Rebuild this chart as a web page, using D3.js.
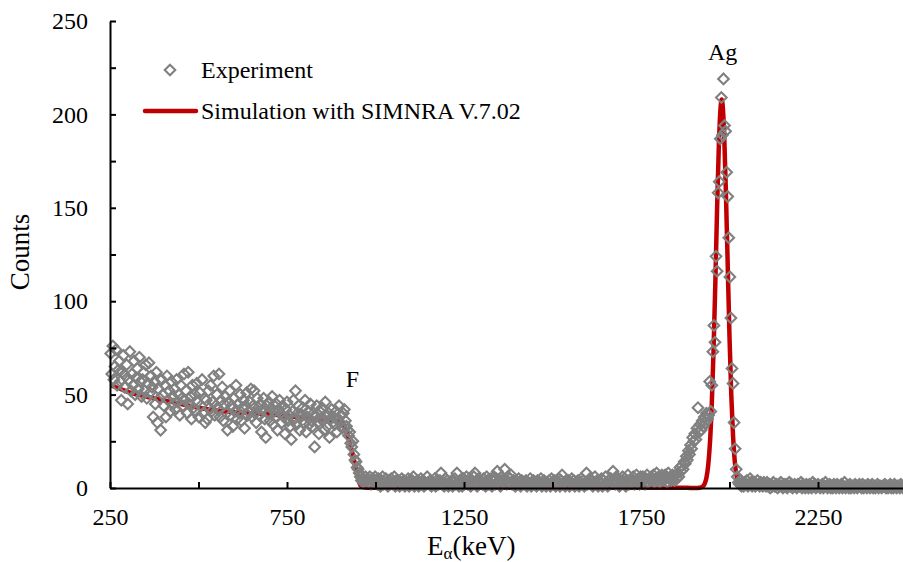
<!DOCTYPE html>
<html>
<head>
<meta charset="utf-8">
<script src="https://cdn.jsdelivr.net/npm/d3@7/dist/d3.min.js"></script>
<style>
  body { margin: 0; background: #fff; }
  svg { font-family: "Liberation Serif", "Times New Roman", serif; }
</style>
</head>
<body>
<svg id="chart" width="903" height="562"></svg>
<script>
var width = 903, height = 562

// Experiment: counts per channel, channels 3 keV apart, each segment with its start energy
var expStep = 3
var expLowStart = 252
var expLow = [
  72, 61, 76, 58, 65, 74, 55, 63, 68, 57,
  47, 62, 71, 54, 60, 66, 45, 58, 73, 52,
  61, 55, 68, 50, 59, 64, 53, 70, 57, 49,
  58, 62, 52, 66, 48, 56, 67, 51, 60, 54,
  38, 57, 45, 62, 35, 53, 48, 31, 58, 50,
  44, 55, 38, 60, 47, 52, 41, 57, 49, 45,
  53, 42, 58, 46, 50, 39, 55, 48, 44, 61,
  47, 52, 40, 62, 45, 49, 37, 55, 43, 50,
  41, 56, 46, 38, 51, 44, 58, 40, 48, 35,
  47, 37, 52, 43, 55, 41, 46, 60, 39, 44,
  50, 42, 61, 38, 47, 54, 36, 45, 49, 40,
  31, 46, 52, 39, 44, 33, 48, 41, 55, 37,
  45, 40, 50, 36, 43, 47, 32, 44, 51, 39,
  41, 46, 53, 38, 44, 52, 40, 35, 48, 43,
  39, 45, 30, 42, 48, 37, 27, 44, 40, 46,
  36, 43, 49, 34, 41, 38, 45, 31, 42, 47,
  40, 35, 44, 38, 29, 42, 46, 36, 39, 33,
  26, 41, 47, 37, 52, 34, 40, 44, 31, 38,
  39, 43, 35, 47, 30, 38, 41, 34, 45, 36,
  33, 40, 22, 38, 44, 35, 29, 41, 37, 43,
  36, 31, 46, 38, 33, 40, 27, 37, 42, 35,
  38, 34, 41, 30, 37, 44, 35, 39, 32, 40,
  42, 36, 33
]
var expEdgeStart = 921
var expEdge = [31, 28, 30, 24, 22, 25, 18, 15, 14, 11, 10, 8, 6, 4, 5, 3, 4]
var expFlatStart = 972
var expFlat = [
  6, 4, 5, 3, 6, 2, 4, 5, 3, 6,
  4, 2, 5, 3, 1, 4, 6, 2, 3, 5,
  3, 1, 4, 2, 5, 3, 2, 6, 1, 4,
  2, 4, 1, 3, 5, 2, 4, 1, 3, 2,
  5, 1, 3, 2, 4, 6, 1, 3, 2, 4,
  1, 3, 5, 2, 4, 1, 3, 2, 6, 3,
  2, 4, 1, 3, 2, 5, 1, 4, 3, 2,
  4, 8, 2, 3, 1, 5, 2, 4, 1, 3,
  2, 4, 1, 3, 5, 2, 8, 3, 1, 4,
  3, 1, 5, 2, 4, 6, 2, 3, 5, 1,
  4, 2, 6, 8, 3, 1, 5, 2, 4, 3,
  2, 5, 3, 1, 6, 4, 2, 3, 5, 1,
  4, 6, 2, 5, 9, 3, 4, 1, 6, 3,
  5, 10, 4, 2, 6, 3, 5, 7, 2, 4,
  3, 1, 4, 2, 5, 3, 1, 4, 2, 3,
  2, 4, 1, 3, 2, 5, 1, 3, 4, 2,
  3, 1, 4, 2, 3, 5, 1, 2, 4, 3,
  1, 3, 2, 4, 1, 5, 3, 2, 4, 1,
  3, 2, 5, 1, 4, 7, 2, 3, 1, 4,
  2, 4, 1, 3, 5, 2, 4, 1, 3, 2,
  4, 1, 3, 5, 2, 4, 1, 3, 8, 2,
  3, 5, 2, 4, 1, 3, 6, 2, 4, 1,
  3, 2, 5, 1, 4, 2, 6, 3, 1, 4,
  2, 5, 3, 9, 4, 2, 6, 3, 5, 1,
  4, 2, 6, 3, 5, 1, 4, 7, 2, 3,
  5, 3, 6, 2, 4, 7, 3, 5, 2, 6,
  3, 6, 4, 2, 5, 7, 3, 5, 4, 6,
  4, 7, 3, 5, 8, 4, 6, 3, 5, 7,
  5, 4, 7, 6, 3, 8, 5, 6, 4, 7
]
var expAgStart = 1842
var expAg = [
  6, 4, 7, 5, 8, 6, 11, 9, 12, 10,
  14, 13, 17, 15, 20, 18, 23, 21, 27, 25,
  29, 26, 32, 43, 30, 34, 31, 36, 33, 38,
  35, 40, 37, 39, 57, 41, 55, 73, 87, 78,
  124, 116, 158, 164, 187, 209, 189, 219, 194, 191,
  169, 156, 134, 113, 91, 64, 56, 35, 21, 10,
  6, 3, 2, 4, 1, 2
]
var expTailStart = 2040
var expTail = [
  1, 3, 2, 4, 1, 2, 5, 3, 1, 2,
  3, 1, 2, 4, 2, 1, 3, 2, 1, 3,
  2, 1, 3, 1, 2, 0, 2, 1, 3, 1,
  1, 2, 0, 2, 1, 3, 1, 0, 2, 1,
  2, 0, 1, 3, 1, 2, 0, 1, 2, 1,
  0, 2, 1, 1, 3, 0, 2, 1, 0, 2,
  1, 0, 2, 1, 0, 3, 1, 2, 0, 1,
  2, 1, 0, 1, 2, 0, 1, 3, 1, 0,
  1, 2, 0, 1, 0, 2, 1, 0, 2, 1,
  0, 1, 2, 0, 1, 3, 0, 1, 1, 0,
  2, 0, 1, 1, 0, 2, 1, 0, 1, 2,
  1, 0, 2, 0, 1, 1, 0, 2, 1, 0,
  1, 2, 0, 1, 0, 1, 2, 0, 1, 1,
  0, 1, 1, 2, 0, 1, 0, 1, 2, 0,
  1, 0, 2, 1, 0, 1, 1, 0, 2, 1,
  0, 1, 1, 0
]

// Simulation with SIMNRA
var simEnergy = [252, 280, 300, 350, 400, 450, 500, 550, 600, 650, 700, 750, 800, 850, 900,
  910, 920, 930, 937, 945, 950, 955, 960, 970, 990, 1200, 1500, 1800, 1880, 1900,
  1910, 1920, 1925, 1930, 1935, 1940, 1945, 1950, 1955, 1960, 1965, 1970, 1975, 1978,
  1981, 1985, 1990, 1995, 2000, 2005, 2010, 2015, 2020, 2025, 2030, 2035, 2045, 2100, 2500]
var simCounts = [55, 53, 51.5, 49, 47, 45, 43, 41.5, 40.5, 40, 39.5, 38.5, 37.5, 36.5, 35.5,
  34, 29, 22, 17, 10, 6, 2.5, 1, 0.3, 0.1, 0.1, 0.1, 0.1, 0.1, 0,
  0.03, 0.3, 0.9, 2.3, 5.6, 12.4, 24.8, 45, 74, 110, 150, 184, 204, 208,
  204, 189, 157, 119, 81, 50, 28, 14, 6.6, 2.8, 1.1, 0.4, 0, 0, 0]

var xTicks = [250, 500, 750, 1000, 1250, 1500, 1750, 2000, 2250, 2500]
var xLabels = [250, 750, 1250, 1750, 2250]
var yTicks = [0, 25, 50, 75, 100, 125, 150, 175, 200, 225, 250]
var yLabels = [0, 50, 100, 150, 200, 250]

var legendLabels = ['Experiment', 'Simulation with SIMNRA V.7.02']
var peakLabels = [{text: 'F', e: 916, c: 54}, {text: 'Ag', e: 1939, c: 229}]

var gray = '#808080', red = '#c00000'

function buildExperiment() {
  var pts = []
  var segs = [[expLowStart, expLow], [expEdgeStart, expEdge], [expFlatStart, expFlat],
    [expAgStart, expAg], [expTailStart, expTail]]
  segs.forEach(function(s) {
    s[1].forEach(function(c, i) {
      pts.push({e: s[0] + i * expStep, c: c})
    })
  })
  return pts
}

var x = d3.scaleLinear().domain([250, 2500]).range([110, 906.5])
var y = d3.scaleLinear().domain([0, 250]).range([488, 21])

var svg = d3.select('svg#chart')

// simulation line (under the points)
var line = d3.line()
  .x(function(d) { return x(d[0]) })
  .y(function(d) { return y(d[1]) })
  .curve(d3.curveMonotoneX)

svg.append('path')
  .datum(d3.zip(simEnergy, simCounts))
  .attr('d', line)
  .attr('fill', 'none')
  .attr('stroke', red)
  .attr('stroke-width', 4.5)
  .attr('stroke-linejoin', 'round')

var diamond = 'M0,-5.3L5.3,0L0,5.3L-5.3,0Z'

svg.append('g')
  .selectAll('path')
  .data(buildExperiment())
  .enter().append('path')
  .attr('d', diamond)
  .attr('transform', function(d) { return 'translate(' + x(d.e) + ',' + y(d.c) + ')' })
  .attr('fill', 'none')
  .attr('stroke', gray)
  .attr('stroke-width', 2.1)

// axes
var xAxis = d3.axisBottom(x)
  .tickValues(xTicks)
  .tickSizeInner(-6)
  .tickSizeOuter(0)
  .tickFormat(function(d) { return xLabels.indexOf(d) >= 0 ? d : '' })

var gx = svg.append('g').attr('transform', 'translate(0,488)').call(xAxis)
gx.selectAll('text').attr('y', 37).attr('dy', 0)

var yAxis = d3.axisLeft(y)
  .tickValues(yTicks)
  .tickSizeInner(-6)
  .tickSizeOuter(0)
  .tickPadding(22)
  .tickFormat(function(d) { return yLabels.indexOf(d) >= 0 ? d : '' })

var gy = svg.append('g').attr('transform', 'translate(110,0)').call(yAxis)

svg.selectAll('.domain, .tick line').attr('stroke', '#000').attr('stroke-width', 2)
svg.selectAll('.tick text').attr('fill', '#000').style('font-size', '24px')
  .style('font-family', '"Liberation Serif", serif')

// axis titles
svg.append('text')
  .attr('transform', 'translate(29,252) rotate(-90)')
  .attr('text-anchor', 'middle')
  .style('font-size', '27px')
  .text('Counts')

var xt = svg.append('text')
  .attr('x', 427).attr('y', 555)
  .style('font-size', '27px')
xt.append('tspan').text('E')
xt.append('tspan').attr('dy', 4).style('font-size', '17px').text('α')
xt.append('tspan').attr('dy', -4).text('(keV)')

// peak labels
svg.selectAll('text.peak')
  .data(peakLabels)
  .enter().append('text')
  .attr('class', 'peak')
  .attr('x', function(d) { return x(d.e) })
  .attr('y', function(d) { return y(d.c) })
  .style('font-size', '24px')
  .text(function(d) { return d.text })

// legend
var lg = svg.append('g')
lg.append('path')
  .attr('d', diamond)
  .attr('transform', 'translate(170,70)')
  .attr('fill', 'none')
  .attr('stroke', gray)
  .attr('stroke-width', 2.1)
lg.append('line')
  .attr('x1', 145).attr('x2', 196).attr('y1', 111).attr('y2', 111)
  .attr('stroke', red).attr('stroke-width', 4.5).attr('stroke-linecap', 'round')
lg.selectAll('text')
  .data(legendLabels)
  .enter().append('text')
  .attr('x', 201)
  .attr('y', function(d, i) { return 78 + i * 41 })
  .style('font-size', '24px')
  .text(function(d) { return d })
</script>
</body>
</html>
